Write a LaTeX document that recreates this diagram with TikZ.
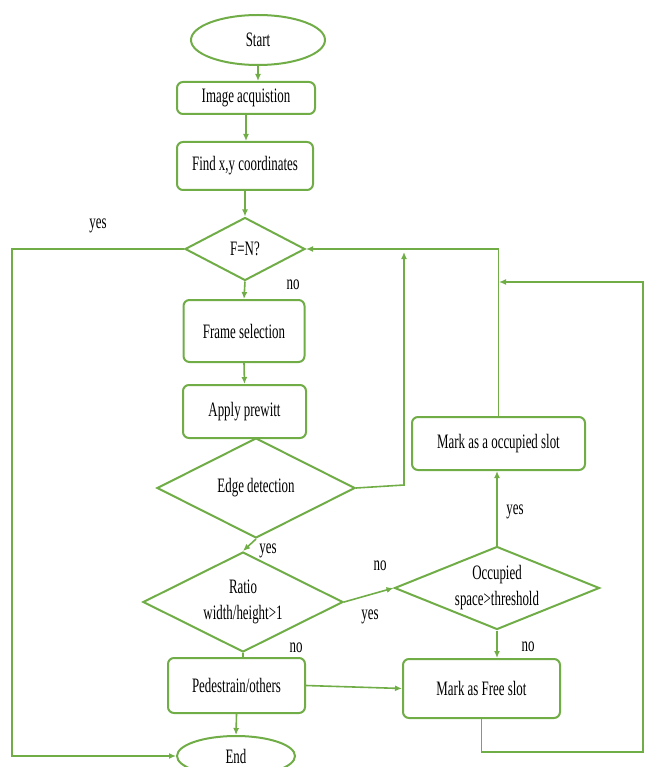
\documentclass[tikz,border=0pt]{standalone}
\usepackage{fontspec}
\setmainfont{Liberation Serif}[FakeStretch=0.63]
\usetikzlibrary{shapes.geometric,arrows.meta}
\definecolor{grn}{HTML}{70AD47}
\begin{document}
\begin{tikzpicture}[x=1pt,y=-1pt,
  every node/.style={font=\fontsize{20.5}{26}\selectfont, inner sep=0pt},
  shp/.style={draw=grn, line width=2pt, fill=white},
  box/.style={shp, rectangle, rounded corners=6pt},
  term/.style={shp, ellipse},
  dec/.style={shp, diamond, aspect=2.5, align=center},
  conn/.style={draw=grn, line width=1.6pt},
  arr/.style={conn, -{Latex[length=7pt,width=6pt]}},
  lbl/.style={}
]
\useasboundingbox (0,0) rectangle (645,767);
\clip (0,0) rectangle (645,767);

% nodes
\node[term, minimum width=134, minimum height=50] (start) at (258,40) {Start};
\node[box, minimum width=138, minimum height=32] (img) at (246,98) {Image acquistion};
\node[box, minimum width=136, minimum height=48] (find) at (245,166) {Find x,y coordinates};
\node[dec, minimum width=120, minimum height=63] (fn) at (245,249) {F=N?};
\node[box, minimum width=121, minimum height=62] (frame) at (244,331) {Frame selection};
\node[box, minimum width=123, minimum height=53] (prewitt) at (244.5,411.5) {Apply prewitt};
\node[dec, minimum width=198, minimum height=100] (edge) at (256,488) {Edge detection};
\node[box, minimum width=173, minimum height=53] (occ) at (498.5,443.5) {Mark as a occupied slot};
\node[dec, minimum width=205, minimum height=83] (occd) at (497,588) {Occupied\\space>threshold};
\node[dec, minimum width=200, minimum height=100] (ratio) at (243,602) {Ratio\\width/height>1};
\node[box, minimum width=137, minimum height=55] (ped) at (236.5,685.5) {Pedestrain/others};
\node[box, minimum width=157, minimum height=59] (free) at (481.5,688.5) {Mark as Free slot};
\node[term, minimum width=118, minimum height=40] (end) at (236,756) {End};

% labels
\node[lbl] (l1) at (98,226) {yes};
\node[lbl] (l2) at (293,285) {no};
\node[lbl] (l3) at (268,551) {yes};
\node[lbl] (l4) at (380,566) {no};
\node[lbl] (l5) at (370,617) {yes};
\node[lbl] (l6) at (296,648) {no};
\node[lbl] (l7) at (515,512) {yes};
\node[lbl] (l8) at (528,647) {no};

% helper coordinates
\coordinate (yesL) at (12,249);
\coordinate (ej) at (404,485);
\coordinate (ejtop) at (404,252);
\coordinate (fb) at (481.5,752);
\coordinate (fr) at (643,752);
\coordinate (frt) at (643,282);
\coordinate (fe) at (499,282);

% connectors
\draw[arr] (start.south) -- (start.south |- img.north);
\draw[arr] (img.south) -- (img.south |- find.north);
\draw[arr] (find.south) -- (fn.north);
\draw[arr] (fn.west) -- (yesL) |- (end.west);
\draw[arr] (fn.south) -- (frame.north);
\draw[arr] (frame.south) -- (prewitt.north);
\draw[arr] (edge.east) -- (ej) -- (ejtop);
\draw[arr] (occ.north) |- (fn.east);
\draw[arr] (free.south) -- (fb) -- (fr) -- (frt) -- (fe);
\draw[arr] (edge.south) -- (ratio.north);
\draw[arr] (ratio.east) -- (occd.west);
\draw[arr] (occd.north) -- (occd.north |- occ.south);
\draw[arr] (occd.south) -- (occd.south |- free.north);
\draw[conn] (ratio.south) -- (ratio.south |- ped.north);
\draw[arr] (ped.east) -- (free.west);
\draw[arr] (ped.south) -- (end.north);
\end{tikzpicture}
\end{document}
